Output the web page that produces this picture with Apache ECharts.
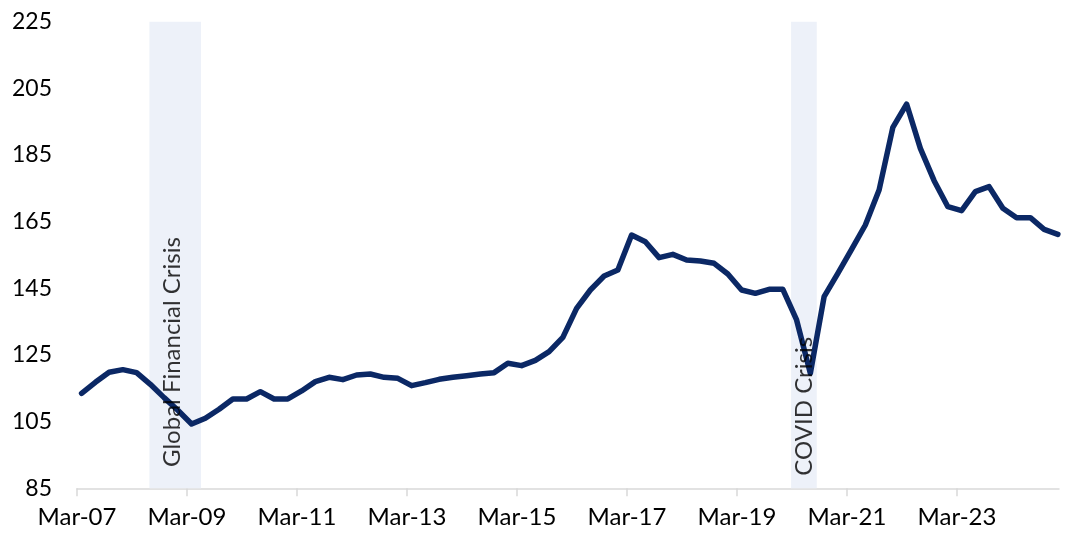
<!DOCTYPE html>
<html>
<head>
<meta charset="utf-8">
<script src="https://cdn.jsdelivr.net/npm/echarts@6/dist/echarts.min.js"></script>
<style>
html,body{margin:0;padding:0;background:#fff;}
#chart{width:1065px;height:548px;}
</style>
</head>
<body>
<div id="chart"></div>
<script>
// Quarter-end observations, Mar-07 .. Dec-24
const quarters = [
 'Mar-07','Jun-07','Sep-07','Dec-07','Mar-08','Jun-08','Sep-08','Dec-08',
 'Mar-09','Jun-09','Sep-09','Dec-09','Mar-10','Jun-10','Sep-10','Dec-10',
 'Mar-11','Jun-11','Sep-11','Dec-11','Mar-12','Jun-12','Sep-12','Dec-12',
 'Mar-13','Jun-13','Sep-13','Dec-13','Mar-14','Jun-14','Sep-14','Dec-14',
 'Mar-15','Jun-15','Sep-15','Dec-15','Mar-16','Jun-16','Sep-16','Dec-16',
 'Mar-17','Jun-17','Sep-17','Dec-17','Mar-18','Jun-18','Sep-18','Dec-18',
 'Mar-19','Jun-19','Sep-19','Dec-19','Mar-20','Jun-20','Sep-20','Dec-20',
 'Mar-21','Jun-21','Sep-21','Dec-21','Mar-22','Jun-22','Sep-22','Dec-22',
 'Mar-23','Jun-23','Sep-23','Dec-23','Mar-24','Jun-24','Sep-24','Dec-24'
];
const values = [
 113.5,116.8,119.8,120.6,119.7,116.2,112.2,108.4,
 104.3,106.0,108.7,111.8,111.8,114.0,111.8,111.8,
 114.2,117.0,118.3,117.6,119.0,119.3,118.3,118.0,
 115.8,116.7,117.7,118.3,118.8,119.3,119.7,122.5,
 121.8,123.4,126.0,130.3,139.0,144.5,148.7,150.5,
 161.0,159.0,154.2,155.2,153.5,153.2,152.5,149.3,
 144.5,143.5,144.7,144.7,135.5,119.5,142.5,149.5,
 156.7,164.0,174.5,193.3,200.3,187.0,177.3,169.5,
 168.3,174.0,175.5,169.0,166.2,166.2,162.7,161.2
];
// x axis in months since 1-Mar-2007; observations sit at quarter-end
const tickLabels = ['Mar-07','Mar-09','Mar-11','Mar-13','Mar-15','Mar-17','Mar-19','Mar-21','Mar-23'];
const tickMonths = [0,24,48,72,96,120,144,168,192];
const axisMaxMonth = 214.25;
const yTicks = [85,105,125,145,165,185,205,225];
// Shaded crisis periods (months since 1-Mar-2007)
const bandNames = ['Global Financial Crisis','COVID Crisis'];
const bandStart = [15.8, 155.8];
const bandEnd = [27.05, 161.4];
const labelMonth = [20.8, 158.6];
const labelValue = [91.4, 88.8];

const seriesData = values.map((v, i) => [i * 3 + 1, v]);

const font = 'Lato, "Open Sans", sans-serif';
const chart = echarts.init(document.getElementById('chart'), null, {renderer: 'canvas'});
chart.setOption({
  animation: false,
  grid: {left: 77, right: 6, top: 21.7, bottom: 59.7, containLabel: false},
  xAxis: {
    type: 'value', min: 0, max: axisMaxMonth, interval: 24,
    splitLine: {show: false},
    axisLine: {show: true, lineStyle: {color: '#D9D9D9', width: 1.5}},
    axisTick: {show: true, inside: false, length: 8, lineStyle: {color: '#D9D9D9', width: 1.5}, customValues: tickMonths},
    axisLabel: {
      customValues: tickMonths,
      margin: 17, color: '#000', fontFamily: font, fontSize: 24,
      formatter: v => tickLabels[tickMonths.indexOf(v)] || ''
    }
  },
  yAxis: {
    type: 'value', min: yTicks[0], max: yTicks[yTicks.length - 1], interval: 20,
    splitLine: {show: false},
    axisLine: {show: false}, axisTick: {show: false},
    axisLabel: {margin: 25, color: '#000', fontFamily: font, fontSize: 23}
  },
  series: [
    {
      type: 'line', data: seriesData, showSymbol: false, symbol: 'none',
      lineStyle: {color: '#0B2865', width: 5.5, join: 'round', cap: 'round'},
      z: 3,
      markArea: {
        silent: true,
        itemStyle: {color: '#EDF1F9'},
        label: {show: false},
        data: bandNames.map((n, k) => [{xAxis: bandStart[k], yAxis: yTicks[0]}, {xAxis: bandEnd[k], yAxis: yTicks[yTicks.length - 1]}])
      }
    },
    {
      type: 'scatter', symbolSize: 0, silent: true, z: 4,
      data: bandNames.map((n, k) => ({name: n, value: [labelMonth[k], labelValue[k]]})),
      label: {
        show: true, formatter: p => p.name, position: [0, 0], rotate: 90,
        align: 'left', verticalAlign: 'middle',
        color: '#000', fontFamily: font, fontSize: 24
      }
    }
  ]
});
</script>
</body>
</html>
